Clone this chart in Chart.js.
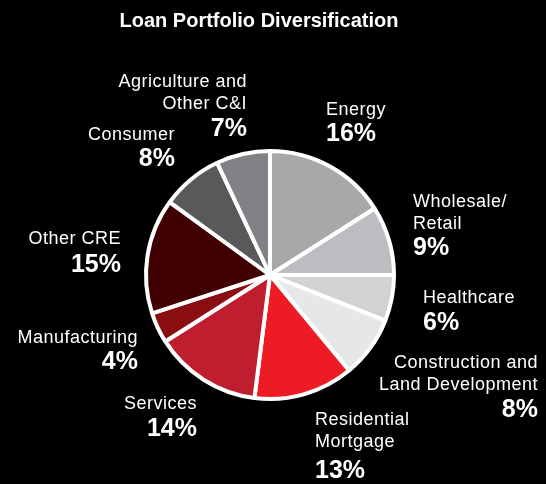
<!DOCTYPE html>
<html>
<head>
<meta charset="utf-8">
<title>Loan Portfolio Diversification</title>
<script src="https://cdn.jsdelivr.net/npm/chart.js@4.4.1/dist/chart.umd.min.js"></script>
<style>
  html, body { margin: 0; padding: 0; background: #000; }
  #wrap { width: 546px; height: 484px; position: relative; }
</style>
</head>
<body>
<div id="wrap"><canvas id="pieChart"></canvas></div>
<script>
// loan mix, clockwise from 12 o'clock
const categories = ['Energy', 'Wholesale/Retail', 'Healthcare', 'Construction and Land Development',
  'Residential Mortgage', 'Services', 'Manufacturing', 'Other CRE', 'Consumer', 'Agriculture and Other C&I'];
const shares = [16, 9, 6, 8, 13, 14, 4, 15, 8, 7];
const sliceColors = ['#a7a8aa', '#bcbdc0', '#d1d2d4', '#e6e7e8', '#ed1c24',
  '#be1e2d', '#8a0d11', '#400002', '#58595b', '#808285'];

// how each category name wraps on the callout
const labelLines = [
  ['Energy'], ['Wholesale/', 'Retail'], ['Healthcare'], ['Construction and', 'Land Development'],
  ['Residential', 'Mortgage'], ['Services'], ['Manufacturing'], ['Other CRE'], ['Consumer'],
  ['Agriculture and', 'Other C&I']
];

// callout anchors: x, y of first line, alignment, gap before the percentage
const callouts = [
  { x: 326, y: 109, align: 'left', gap: 23 },
  { x: 413, y: 201, align: 'left', gap: 23 },
  { x: 423, y: 297, align: 'left', gap: 24 },
  { x: 538, y: 362, align: 'right', gap: 24 },
  { x: 315, y: 419, align: 'left', gap: 28 },
  { x: 197, y: 403, align: 'right', gap: 24 },
  { x: 138, y: 337, align: 'right', gap: 23 },
  { x: 121, y: 238, align: 'right', gap: 25 },
  { x: 175, y: 134, align: 'right', gap: 23 },
  { x: 247, y: 81, align: 'right', gap: 24 }
];

const calloutPlugin = {
  id: 'callouts',
  beforeDraw(chart) {
    const c = chart.ctx;
    c.save();
    c.fillStyle = '#000';
    c.fillRect(0, 0, chart.width, chart.height);
    c.restore();
  },
  afterDraw(chart) {
    const c = chart.ctx;
    c.save();
    c.fillStyle = '#fff';
    c.textBaseline = 'alphabetic';

    c.textAlign = 'center';
    c.font = 'bold 20px "Liberation Sans", Arial, sans-serif';
    c.fillText('Loan Portfolio Diversification', 259, 27);

    const values = chart.data.datasets[0].data;
    callouts.forEach((p, i) => {
      c.textAlign = p.align;
      let y = p.y;
      c.font = '18px "Liberation Sans", Arial, sans-serif';
      c.letterSpacing = '0.5px';
      labelLines[i].forEach((line, k) => {
        if (k > 0) y += 22;
        c.fillText(line, p.x, y + 6);
      });
      y += p.gap;
      c.font = 'bold 25px "Liberation Sans", Arial, sans-serif';
      c.letterSpacing = '0px';
      c.fillText(values[i] + '%', p.x, y + 9);
    });
    c.restore();
  }
};

const ctx = document.getElementById('pieChart').getContext('2d');
const myChart = new Chart(ctx, {
  type: 'pie',
  data: {
    labels: categories,
    datasets: [{
      data: shares,
      backgroundColor: sliceColors,
      borderColor: '#ffffff',
      borderWidth: 4
    }]
  },
  options: {
    responsive: true,
    maintainAspectRatio: false,
    animation: false,
    rotation: 0,
    layout: {
      padding: { top: 149, bottom: 83, left: 144, right: 150 }
    },
    plugins: {
      legend: { display: false },
      tooltip: { enabled: false }
    }
  },
  plugins: [calloutPlugin]
});
</script>
</body>
</html>
